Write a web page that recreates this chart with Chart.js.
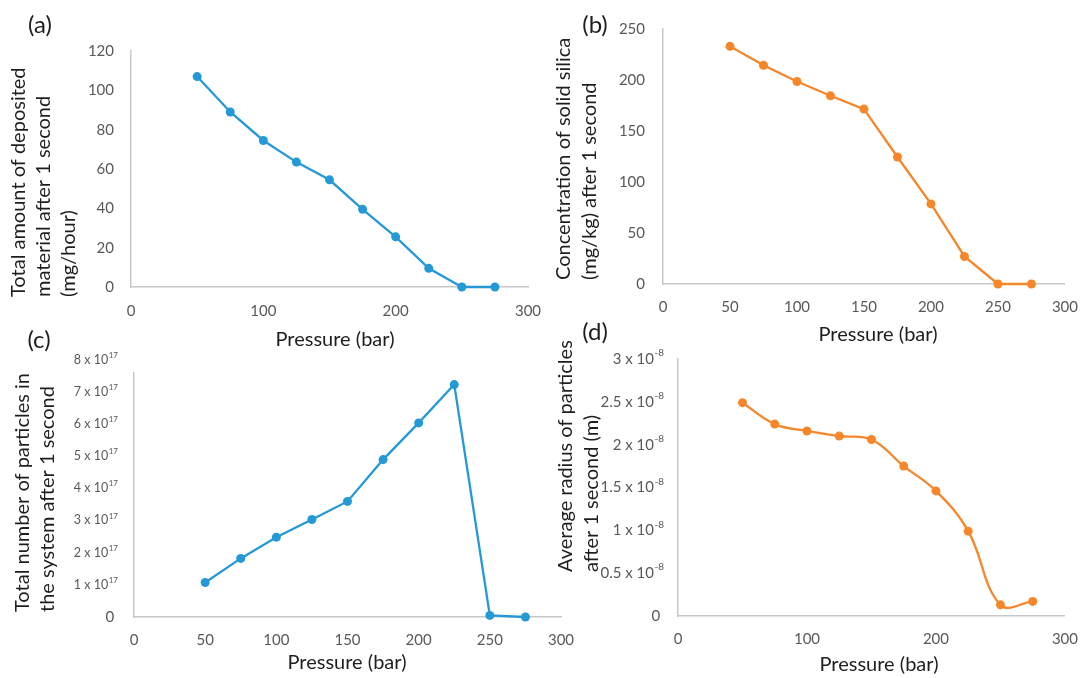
<!DOCTYPE html>
<html>
<head>
<meta charset="utf-8">
<title>Pressure study</title>
<script src="https://cdn.jsdelivr.net/npm/chart.js@4.4.1/dist/chart.umd.min.js"></script>
<style>
  html, body { margin: 0; padding: 0; background: #fff; }
  #wrap { position: relative; width: 1092px; height: 678px; overflow: hidden; }
  #wrap canvas { position: absolute; left: 0; top: 0; }
</style>
</head>
<body>
<div id="wrap">
  <canvas id="chartA" width="1092" height="678"></canvas>
  <canvas id="chartB" width="1092" height="678"></canvas>
  <canvas id="chartC" width="1092" height="678"></canvas>
  <canvas id="chartD" width="1092" height="678"></canvas>
</div>
<script>
// Pressure steps used by every panel (bar)
const pressure = [50, 75, 100, 125, 150, 175, 200, 225, 250, 275];

// (a) total deposited material after 1 s (mg/hour)
const depositedMaterial = [107, 89, 74.5, 63.5, 54.5, 39.5, 25.5, 9.5, 0, 0];
// (b) solid silica concentration after 1 s (mg/kg)
const silicaConcentration = [233, 214.5, 198.5, 184.5, 171.5, 124.5, 78.5, 27, 0, 0];
// (c) total number of particles after 1 s
const particleCount = [1.07e17, 1.82e17, 2.48e17, 3.03e17, 3.59e17, 4.89e17, 6.03e17, 7.22e17, 0.05e17, 0];
// (d) average particle radius after 1 s (m)
const particleRadius = [2.49e-8, 2.24e-8, 2.16e-8, 2.10e-8, 2.06e-8, 1.75e-8, 1.46e-8, 0.99e-8, 0.13e-8, 0.17e-8];

// axis ranges as [min, max, step]
const xRangeHundreds = [0, 300, 100];
const xRangeFifties = [0, 300, 50];
const yRangeA = [0, 120, 20];
const yRangeB = [0, 250, 50];
const yRangeC = [0, 7.58e17, 1e17];   // axis line stops a little under the top label
const yRangeD = [0, 3e-8, 0.5e-8];

// scientific tick labels for (c) and (d)
const yTicksC = [0, 1e17, 2e17, 3e17, 4e17, 5e17, 6e17, 7e17, 8e17];
const yTicksD = [0, 0.5e-8, 1e-8, 1.5e-8, 2e-8, 2.5e-8, 3e-8];

const PAGE_W = 1092, PAGE_H = 678;
const FONT = 'Lato, "Open Sans", sans-serif';
const BLUE = '#2599d6';
const ORANGE = '#f5862a';
const AXIS_GREY = '#c8c8c8';
const TICK_GREY = '#595959';
const TEXT_DARK = '#1e1e1e';

// Panel letter, x title and the stacked, rotated y title
function panelText(t) {
  return {
    id: 'panelText',
    afterDraw(chart) {
      const ctx = chart.ctx;
      ctx.save();
      ctx.fillStyle = TEXT_DARK;
      ctx.textBaseline = 'middle';
      ctx.textAlign = 'center';
      ctx.font = '24px ' + FONT;
      ctx.fillText(t.letter, t.letterX, t.letterY);
      ctx.font = '20px ' + FONT;
      ctx.fillText('Pressure (bar)', t.xTitleX, t.xTitleY);
      ctx.translate(t.yTitleX, t.yTitleStart);
      ctx.rotate(-Math.PI / 2);
      ctx.textAlign = 'left';
      t.yTitle.forEach((line, i) => ctx.fillText(line, 0, i * t.yTitleGap));
      ctx.restore();
    }
  };
}

// y tick labels written as "m x 10^e" with a raised exponent
function sciTicks(s) {
  return {
    id: 'sciTicks',
    afterDraw(chart) {
      const scale = chart.scales.y;
      const ctx = chart.ctx;
      const xr = scale.right - s.padding;
      ctx.save();
      ctx.fillStyle = TICK_GREY;
      ctx.textBaseline = 'middle';
      ctx.textAlign = 'right';
      ctx.font = s.supSize + 'px ' + FONT;
      const supW = ctx.measureText(s.exponent).width;
      s.values.forEach(v => {
        const py = scale.getPixelForValue(v);
        const m = Math.round(v / s.unit * 10) / 10;
        if (m === 0) {
          ctx.font = '15px ' + FONT;
          ctx.fillText('0', xr - supW * 0.4, py);
          return;
        }
        ctx.font = s.supSize + 'px ' + FONT;
        ctx.fillText(s.exponent, xr, py - s.rise);
        ctx.font = s.baseSize + 'px ' + FONT;
        ctx.fillText(m + ' x 10', xr - supW - 0.5, py);
      });
      ctx.restore();
    }
  };
}

function makeChart(canvasId, cfg) {
  const box = cfg.box;
  const tickFont = { family: FONT, size: 15 };
  const plugins = [panelText(cfg.text)];
  if (cfg.sci) plugins.push(sciTicks(cfg.sci));

  return new Chart(document.getElementById(canvasId).getContext('2d'), {
    type: 'line',
    data: {
      datasets: [{
        data: pressure.map((p, i) => ({ x: p, y: cfg.values[i] })),
        borderColor: cfg.color,
        backgroundColor: cfg.color,
        borderWidth: 2.3,
        pointRadius: 4.5,
        pointHoverRadius: 4.5,
        pointBorderWidth: 0,
        tension: cfg.smooth ? 0.4 : 0,
        clip: false
      }]
    },
    options: {
      responsive: false,
      animation: false,
      events: [],
      // the axes take all the room left and below the plot, so the
      // plot box lands exactly on box.left / box.bottom
      layout: {
        padding: { left: 0, top: box.top, right: PAGE_W - box.right, bottom: 0 }
      },
      plugins: { legend: { display: false }, tooltip: { enabled: false } },
      scales: {
        x: {
          type: 'linear',
          min: cfg.xRange[0], max: cfg.xRange[1],
          ticks: { stepSize: cfg.xRange[2], padding: cfg.xPad, font: tickFont, color: TICK_GREY, maxRotation: 0, autoSkip: false },
          grid: { display: false, drawTicks: false },
          border: { color: AXIS_GREY, width: 1.5 },
          afterFit: s => { s.height = PAGE_H - box.bottom; }
        },
        y: {
          type: 'linear',
          min: cfg.yRange[0], max: cfg.yRange[1],
          ticks: { display: !cfg.sci, stepSize: cfg.yRange[2], padding: cfg.yPad, font: tickFont, color: TICK_GREY, autoSkip: false },
          grid: { display: false, drawTicks: false },
          border: { color: AXIS_GREY, width: 1.5 },
          afterFit: s => { s.width = box.left; }
        }
      }
    },
    plugins
  });
}

makeChart('chartA', {
  values: depositedMaterial, color: BLUE,
  box: { left: 131, top: 51, right: 528, bottom: 287 },
  xRange: xRangeHundreds, yRange: yRangeA, xPad: 15, yPad: 17,
  text: {
    letter: '(a)', letterX: 40, letterY: 25,
    xTitleX: 335, xTitleY: 340,
    yTitle: ['Total amount of deposited', 'material after 1 second', '(mg/hour)'],
    yTitleX: 19, yTitleStart: 297, yTitleGap: 25
  }
});

makeChart('chartB', {
  values: silicaConcentration, color: ORANGE,
  box: { left: 663, top: 29, right: 1069, bottom: 284 },
  xRange: xRangeFifties, yRange: yRangeB, xPad: 14, yPad: 18,
  text: {
    letter: '(b)', letterX: 595, letterY: 25,
    xTitleX: 878, xTitleY: 335,
    yTitle: ['Concentration of solid silica', '(mg/kg) after 1 second'],
    yTitleX: 564, yTitleStart: 280, yTitleGap: 26
  }
});

makeChart('chartC', {
  values: particleCount, color: BLUE,
  box: { left: 134, top: 373, right: 561, bottom: 617 },
  xRange: xRangeFifties, yRange: yRangeC, xPad: 14, yPad: 16,
  sci: { values: yTicksC, unit: 1e17, exponent: '17', baseSize: 12.5, supSize: 8, rise: 4.5, padding: 16 },
  text: {
    letter: '(c)', letterX: 39, letterY: 340,
    xTitleX: 347, xTitleY: 663,
    yTitle: ['Total number of particles in', 'the system after 1 second'],
    yTitleX: 23, yTitleStart: 612, yTitleGap: 25
  }
});

makeChart('chartD', {
  values: particleRadius, color: ORANGE, smooth: true,
  box: { left: 678, top: 359, right: 1075, bottom: 616 },
  xRange: xRangeHundreds, yRange: yRangeD, xPad: 14, yPad: 14,
  sci: { values: yTicksD, unit: 1e-8, exponent: '-8', baseSize: 15, supSize: 10, rise: 6, padding: 14 },
  text: {
    letter: '(d)', letterX: 595, letterY: 332,
    xTitleX: 879, xTitleY: 665,
    yTitle: ['Average radius of particles', 'after 1 second (m)'],
    yTitleX: 566, yTitleStart: 572, yTitleGap: 26
  }
});
</script>
</body>
</html>
